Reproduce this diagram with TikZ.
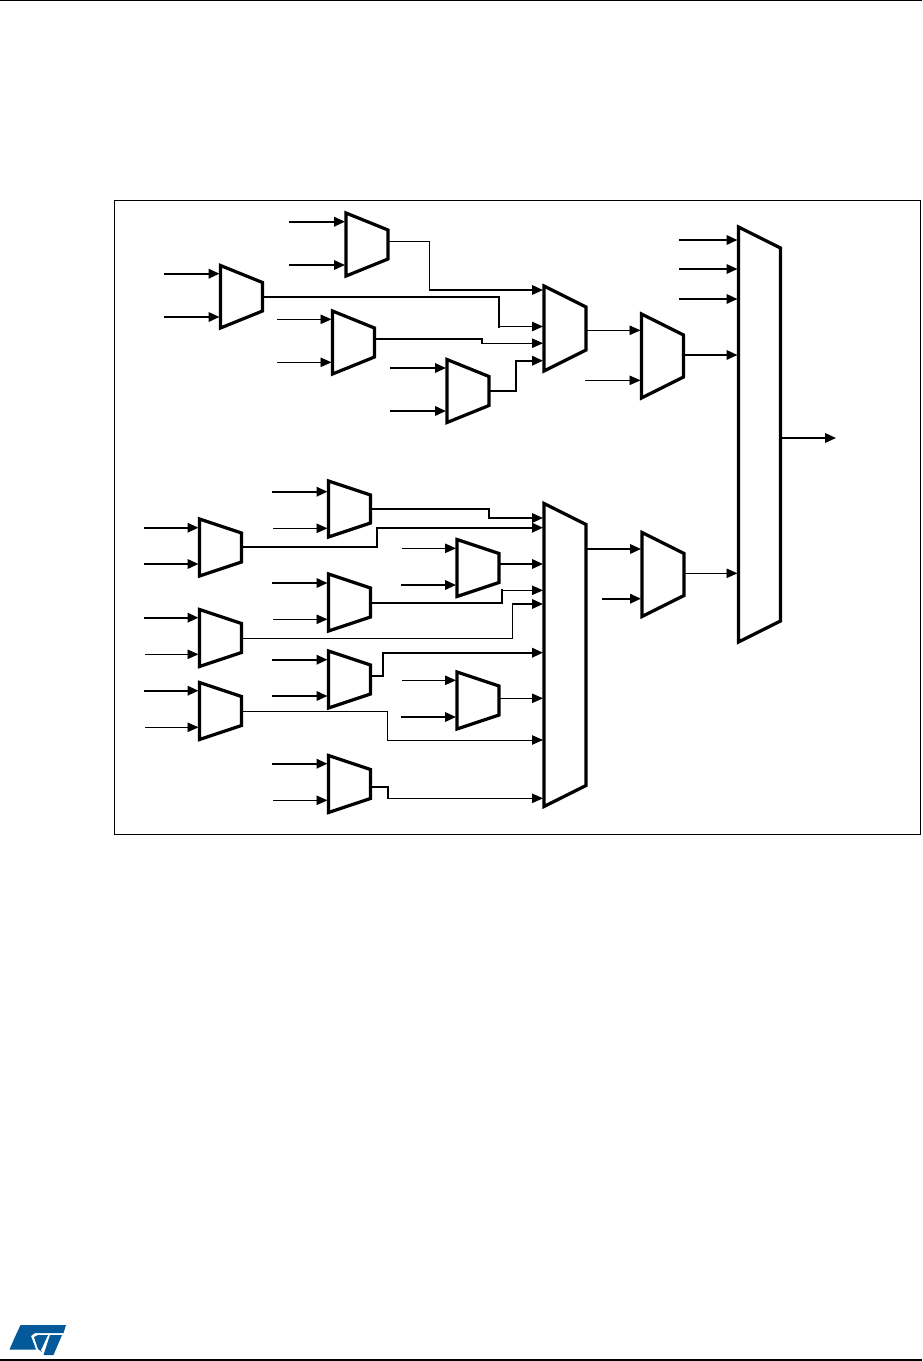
\documentclass[tikz,border=0pt]{standalone}
\usepackage{tikz}
\usetikzlibrary{arrows.meta,calc}
\definecolor{stblue}{HTML}{03599A}

\begin{document}
\begin{tikzpicture}[x=1pt,y=-1pt,
    muxbox/.style={minimum width=42pt,inner sep=0pt,outer sep=0pt,anchor=north west},
    muxline/.style={line width=3.2pt,line join=miter},
    thinw/.style={line width=0.9pt,line cap=rect},
    thickw/.style={line width=2pt,line cap=rect},
    sig/.style={-{Triangle[length=11pt,width=9.5pt]},shorten >=1pt}]
  \useasboundingbox (0,0) rectangle (922,1361);
  % page rules and frame
  \coordinate (pageA) at (0,0.5);
  \coordinate (pageB) at (922,0.5);
  \coordinate (pageC) at (0,1360);
  \coordinate (pageD) at (922,1360);
  \draw[line width=1pt] (pageA) -- (pageB);
  \draw[line width=1.2pt] (pageC) -- (pageD);
  \draw[line width=0.9pt] (114.5,200.5) rectangle (920.5,834.5);
  % muxes: name/left/top/height/slant
  \foreach \name/\xa/\ya/\hgt/\slnt in {
      mA/346/213/63/17, mB/220.5/265.5/62.5/17, mC/332.5/311/63/17,
      mD/447/359.5/63/17, mE/544/286/85/21, mF/641.5/314/84/21,
      mG/738.5/227/415/21, mJ/328.5/481/56/14, mK/199.5/519/57/14,
      mL/457/539.5/57/14, mM/328.5/574/57/14, mN/199.5/609.5/57/14,
      mO/199.5/682.5/57/14, mP/328.5/651/57/14, mQ/457/672/57/14,
      mR/328.5/755.5/57/14, mH/642/532.5/84/21, mI/544/503.5/303/21} {
    \node[muxbox,minimum height=\hgt pt] (\name) at (\xa,\ya) {};
    \draw[muxline] (\name.north west) -- ([yshift=-\slnt pt]\name.north east)
      -- ([yshift=\slnt pt]\name.south east) -- (\name.south west) -- cycle;
  }
  % free inputs
  \foreach \dst/\xa/\ya/\w [count=\i] in {
      mA/290/221.7/thickw, mA/290/265/thickw, mB/165/273.7/thickw, mB/165/317/thickw,
      mC/277/319.3/thinw, mC/277/362.3/thinw, mD/391/368/thickw, mD/391/411/thickw,
      mF/585/380.3/thinw, mG/680/240/thickw, mG/680/269/thickw, mG/680/299/thickw,
      mJ/273/491.7/thickw, mJ/273/528.3/thinw, mK/145/527.7/thickw, mK/145/564/thickw,
      mL/402/548.3/thinw, mL/402/585/thickw, mM/273/583/thickw, mM/273/619.3/thinw,
      mN/145/617.7/thickw, mN/145/654.3/thinw, mO/145/690.7/thickw, mO/145/727.3/thinw,
      mP/273/659.7/thickw, mP/273/696/thickw, mQ/402/680.3/thinw, mQ/402/717/thickw,
      mR/273/763.7/thickw, mR/273/800.3/thinw, mH/603/598.7/thickw} {
    \coordinate (in\i) at (\xa,\ya);
    \draw[\w,sig] (in\i) -- (in\i -| \dst.west);
  }
  % routed wires: source/shift/bend x/bend y/first part/last part/target
  \foreach \src/\shft/\bx/\by/\wa/\wb/\dst in {
      mA/3/429.5/290/thinw/thickw/mE, mB/0/499/326.5/thickw/thinw/mE,
      mC/3.6/481.5/343.2/thickw/thinw/mE, mD/0/516/360.7/thickw/thickw/mE,
      mJ/0/488.7/518/thickw/thickw/mI, mK/0.5/377.3/527.7/thickw/thickw/mI,
      mM/0/502.3/590.3/thickw/thinw/mI, mN/0/512.7/604/thinw/thickw/mI,
      mO/0/387.7/740/thinw/thinw/mI, mP/3.8/383.3/652.7/thickw/thickw/mI,
      mR/-3/387.7/798.3/thickw/thinw/mI} {
    \coordinate (b\src) at (\bx,\by);
    \draw[\wa] ([yshift=\shft pt]\src.east) -| (b\src);
    \draw[\wb,sig] (b\src) -- (b\src -| \dst.west);
  }
  % straight wires
  \foreach \src/\dst/\ya/\w in {
      mE/mF/330.3/thinw, mF/mG/355/thickw, mH/mG/573.3/thinw,
      mI/mH/549/thickw, mL/mI/564/thickw, mQ/mI/698.3/thinw} {
    \coordinate (p\src) at (0,\ya);
    \draw[\w,sig] (p\src -| \src.east) -- (p\src -| \dst.west);
  }
  \coordinate (outG) at (836,438);
  \draw[thickw,-{Triangle[length=11pt,width=9.5pt]}] (outG -| mG.east) -- (outG);
  % logo
  \fill[stblue] (20.5,1325) -- (66,1325) -- (63.5,1333) -- (35,1333) -- (31,1336)
    -- (36,1349.5) -- (9.5,1349.5) -- (14.5,1338) -- cycle;
  \fill[stblue] (38,1335) -- (48,1335) -- (41,1350) -- (42,1352) -- (38,1349) -- (34,1337) -- cycle;
  \fill[stblue] (50,1335) -- (62,1335) -- (53.5,1355) -- (43.5,1355) -- cycle;
\end{tikzpicture}
\end{document}
